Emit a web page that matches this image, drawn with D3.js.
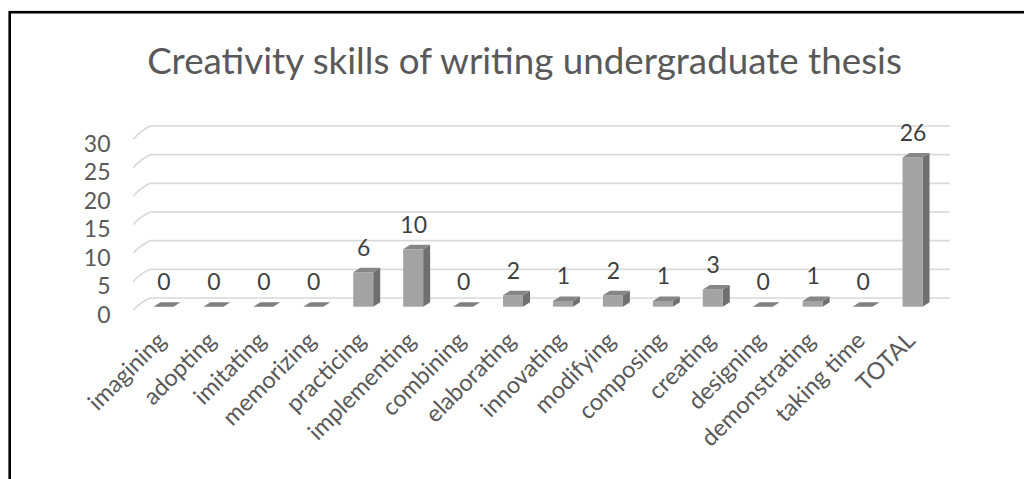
<!DOCTYPE html>
<html>
<head>
<meta charset="utf-8">
<script src="https://cdn.jsdelivr.net/npm/d3@7"></script>
<style>
  html, body { margin: 0; padding: 0; background: #ffffff; }
  svg { display: block; }
</style>
</head>
<body>
<script>
// ---- data ----
const title = "Creativity skills of writing undergraduate thesis";
const categories = ["imagining", "adopting", "imitating", "memorizing", "practicing",
  "implementing", "combining", "elaborating", "innovating", "modifying", "composing",
  "creating", "designing", "demonstrating", "taking time", "TOTAL"];
const values = [0, 0, 0, 0, 6, 10, 0, 2, 1, 2, 1, 3, 0, 1, 0, 26];
const yTicks = [0, 5, 10, 15, 20, 25, 30];

// ---- layout ----
const W = 1024, H = 479;
const svg = d3.select("body").append("svg").attr("width", W).attr("height", H);

// frame
svg.append("rect").attr("x", 9.7).attr("y", 12.2).attr("width", 1200).attr("height", 700)
  .attr("fill", "#fff").attr("stroke", "#000").attr("stroke-width", 2.6);

const font = "Lato, 'Open Sans', sans-serif";

// scales
const x = d3.scaleBand().domain(categories).range([138.5, 937.5])
  .paddingInner(0.6).paddingOuter(0.3);
const yBack = d3.scaleLinear().domain([0, 30]).range([298, 126]);
const yFront = d3.scaleLinear().domain([0, 30]).range([310, 139.3]);
const yBar = d3.scaleLinear().domain([0, 30]).range([306.7, 134.5]);
const wallX0 = 133.3, wallX1 = 150, wallX2 = 950;
const depthX = 7, depthY = -4.5;

// gridlines (side wall diagonals + back wall)
const grid = svg.append("g").attr("fill", "none").attr("stroke", "#d9d9d9").attr("stroke-width", 1.6);
grid.selectAll("path").data(yTicks).join("path")
  .attr("d", d => `M${wallX0},${yFront(d)} Q${wallX0 + 6},${(yFront(d) + yBack(d)) / 2 - 1} ${wallX1},${yBack(d)} L${wallX2},${yBack(d)}`);

// y tick labels
svg.append("g").selectAll("text").data(yTicks).join("text")
  .attr("x", 110.5).attr("y", d => yFront(d) + 3.5)
  .attr("text-anchor", "end").attr("dominant-baseline", "central")
  .attr("font-family", font).attr("font-size", 23).attr("fill", "#595959")
  .text(d => d);

// bars
const bars = svg.append("g");
const bw = x.bandwidth();
const y0 = yBar(0);
categories.forEach((c, i) => {
  const v = values[i];
  const bx = x(c);
  const top = yBar(v);
  const g = bars.append("g");
  if (v > 0) {
    g.append("path").attr("fill", "#6f6f6f")
      .attr("d", `M${bx + bw},${y0} L${bx + bw + depthX},${y0 + depthY} L${bx + bw + depthX},${top + depthY} L${bx + bw},${top} Z`);
    g.append("rect").attr("x", bx).attr("y", top).attr("width", bw).attr("height", y0 - top)
      .attr("fill", "#a3a3a3");
  }
  g.append("path").attr("fill", v > 0 ? "#868686" : "#7f7f7f")
    .attr("d", `M${bx},${top} L${bx + bw},${top} L${bx + bw + depthX},${top + depthY} L${bx + depthX},${top + depthY} Z`);
});

// data labels
svg.append("g").selectAll("text").data(values).join("text")
  .attr("x", (d, i) => x(categories[i]) + bw / 2 + 0.5)
  .attr("y", d => yBar(d) - 25.5)
  .attr("text-anchor", "middle").attr("dominant-baseline", "central")
  .attr("font-family", font).attr("font-size", 23).attr("fill", "#404040")
  .text(d => d);

// x category labels
svg.append("g").selectAll("text").data(categories).join("text")
  .attr("transform", d => `translate(${x(d) + bw / 2 + 4},342) rotate(-45)`)
  .attr("text-anchor", "end")
  .attr("font-family", font).attr("font-size", 23.5).attr("fill", "#595959")
  .text(d => d);

// title, fitted to reference width
const t = svg.append("text").attr("x", 524.5).attr("y", 74)
  .attr("text-anchor", "middle")
  .attr("font-family", font).attr("font-weight", 400).attr("font-size", 38).attr("fill", "#595959")
  .text(title);
const tl = t.node().getComputedTextLength();
t.attr("font-size", 38 * 755 / tl);
</script>
</body>
</html>
